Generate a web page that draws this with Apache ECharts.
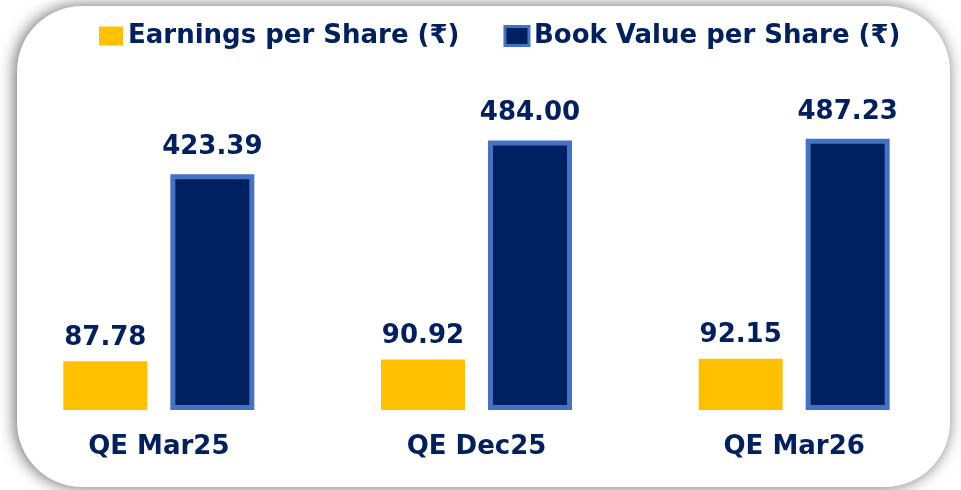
<!DOCTYPE html>
<html>
<head>
<meta charset="utf-8">
<script src="https://cdn.jsdelivr.net/npm/echarts@6/dist/echarts.min.js"></script>
<style>
  html, body { margin: 0; padding: 0; background: #fff; }
  #chart { width: 961px; height: 490px; }
</style>
</head>
<body>
<div id="chart"></div>
<script>
// quarters and per-share values (₹)
const quarters = ["QE Mar25", "QE Dec25", "QE Mar26"];
const eps = [87.78, 90.92, 92.15];
const bvps = [423.39, 484.0, 487.23];
const seriesNames = ["Earnings per Share (₹)", "Book Value per Share (₹)"];

const navy = "#002060";
const font = "DejaVu Sans";

const chart = echarts.init(document.getElementById("chart"));

const valueLabel = (dist) => ({
  show: true,
  position: "top",
  distance: dist,
  formatter: (p) => p.value.toFixed(2),
  color: navy,
  fontSize: 26,
  fontWeight: "bold",
  fontFamily: font,
});

const option = {
  backgroundColor: "#fff",
  animation: false,
  textStyle: { fontFamily: font },
  graphic: [
    {
      type: "rect",
      z: -10,
      shape: { x: 17, y: 6, width: 933, height: 481, r: 65 },
      style: {
        fill: "#fff",
        shadowBlur: 16,
        shadowOffsetX: -2,
        shadowColor: "rgba(0,0,0,0.6)",
      },
    },
  ],
  legend: {
    top: 18,
    left: 94,
    icon: "rect",
    itemWidth: 24,
    itemHeight: 19,
    itemGap: 44,
    textStyle: {
      color: navy,
      fontSize: 26,
      fontWeight: "bold",
      fontFamily: font,
    },
    data: [
      { name: seriesNames[0], itemStyle: { borderWidth: 0 } },
      { name: seriesNames[1], itemStyle: { borderWidth: 3, borderColor: "#4472C4" } },
    ],
  },
  grid: {
    left: 0,
    right: 8,
    top: 76,
    bottom: 80,
    containLabel: false,
  },
  xAxis: {
    type: "category",
    data: quarters,
    axisLine: { show: false },
    axisTick: { show: false },
    axisLabel: {
      margin: 24,
      color: navy,
      fontSize: 26,
      fontWeight: "bold",
      fontFamily: font,
    },
  },
  yAxis: {
    type: "value",
    min: 0,
    max: 600,
    show: false,
    splitLine: { show: false },
  },
  series: [
    {
      name: seriesNames[0],
      type: "bar",
      data: eps,
      barWidth: 84,
      barGap: "27.4%",
      itemStyle: { color: "#FFC000" },
      label: valueLabel(10),
    },
    {
      name: seriesNames[1],
      type: "bar",
      data: bvps,
      barWidth: 84,
      barGap: "27.4%",
      itemStyle: {
        color: navy,
        borderColor: "#4472C4",
        borderWidth: 5,
      },
      label: valueLabel(14),
    },
  ],
};

chart.setOption(option);
</script>
</body>
</html>
